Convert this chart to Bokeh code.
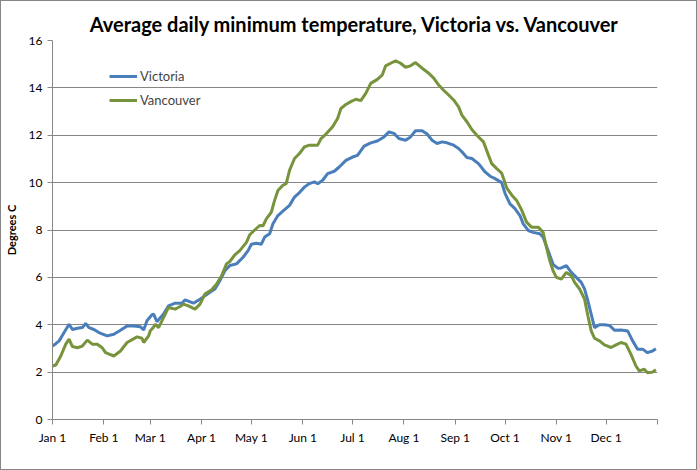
from bokeh.plotting import figure
from bokeh.models import Range1d, FixedTicker, Legend, LegendItem
from bokeh.embed import file_html
from bokeh.resources import INLINE

month_ticks = [0, 31, 59, 90, 120, 151, 181, 212, 243, 273, 304, 334, 365]
month_labels = ["Jan 1", "Feb 1", "Mar 1", "Apr 1", "May 1", "Jun 1", "Jul 1",
                "Aug 1", "Sep 1", "Oct 1", "Nov 1", "Dec 1", ""]

victoria_days = [0, 2, 4, 7, 10, 12, 15, 18, 20, 22, 25, 28, 33, 37, 41, 45, 49, 53, 55, 57,
                 60, 61, 63, 67, 70, 74, 78, 80, 85, 89, 92, 95, 98, 101, 104, 107, 111, 115,
                 118, 120, 123, 126, 128, 131, 133, 136, 139, 143, 146, 149, 152, 155, 158,
                 160, 163, 166, 170, 173, 177, 181, 184, 188, 192, 196, 200, 203, 206, 209,
                 213, 216, 219, 223, 226, 229, 232, 235, 238, 242, 245, 247, 250, 253, 257,
                 261, 264, 267, 271, 273, 276, 279, 282, 284, 287, 290, 294, 296, 299, 302,
                 305, 307, 310, 313, 316, 319, 321, 323, 325, 327, 330, 333, 336, 339, 343,
                 347, 350, 353, 356, 359, 362, 364]
victoria = [3.10, 3.20, 3.32, 3.67, 4.02, 3.80, 3.85, 3.88, 4.05, 3.88, 3.80, 3.67, 3.53, 3.60,
            3.77, 3.95, 3.95, 3.92, 3.78, 4.17, 4.42, 4.45, 4.13, 4.45, 4.80, 4.91, 4.91, 5.05,
            4.91, 5.08, 5.22, 5.37, 5.51, 5.86, 6.28, 6.50, 6.57, 6.85, 7.13, 7.40, 7.44, 7.40,
            7.70, 7.84, 8.26, 8.61, 8.80, 9.04, 9.39, 9.58, 9.81, 9.96, 10.03, 9.95, 10.10,
            10.38, 10.48, 10.66, 10.94, 11.08, 11.15, 11.54, 11.68, 11.76, 11.93, 12.14, 12.08,
            11.86, 11.79, 11.93, 12.19, 12.19, 12.05, 11.79, 11.65, 11.72, 11.68, 11.58, 11.44,
            11.30, 11.06, 11.02, 10.80, 10.45, 10.27, 10.17, 10.00, 9.55, 9.10, 8.90, 8.61,
            8.26, 7.98, 7.90, 7.84, 7.69, 7.13, 6.55, 6.38, 6.40, 6.50, 6.21, 6.00, 5.79, 5.51,
            5.01, 4.45, 3.88, 4.00, 4.00, 3.97, 3.77, 3.78, 3.74, 3.32, 2.97, 2.97, 2.82, 2.89,
            2.99]

vancouver_days = [0, 2, 5, 8, 10, 12, 15, 18, 21, 24, 27, 30, 32, 37, 41, 45, 51, 54, 55, 58,
                  59, 61, 62, 64, 67, 70, 74, 77, 79, 82, 86, 89, 92, 96, 99, 102, 105, 107,
                  110, 113, 117, 119, 122, 125, 127, 129, 132, 134, 136, 139, 141, 143, 146,
                  149, 152, 155, 160, 162, 165, 169, 172, 174, 177, 180, 183, 186, 189, 192,
                  196, 199, 201, 204, 207, 210, 213, 216, 219, 223, 227, 230, 233, 236, 239,
                  242, 245, 247, 250, 253, 256, 260, 263, 265, 268, 271, 274, 277, 280, 283,
                  286, 289, 293, 296, 298, 300, 302, 304, 307, 310, 313, 315, 318, 321, 323,
                  325, 327, 330, 333, 337, 340, 343, 346, 349, 352, 354, 357, 359, 362, 364]
vancouver = [2.26, 2.30, 2.68, 3.18, 3.39, 3.08, 3.03, 3.10, 3.35, 3.18, 3.18, 3.03, 2.82, 2.68,
             2.89, 3.25, 3.49, 3.43, 3.25, 3.53, 3.75, 3.90, 4.02, 3.88, 4.30, 4.73, 4.66, 4.77,
             4.87, 4.80, 4.66, 4.87, 5.30, 5.48, 5.72, 6.07, 6.57, 6.67, 6.95, 7.13, 7.48, 7.80,
             8.00, 8.19, 8.18, 8.47, 8.75, 9.25, 9.67, 9.89, 9.96, 10.52, 11.02, 11.23, 11.51,
             11.58, 11.58, 11.86, 12.05, 12.36, 12.71, 13.13, 13.30, 13.42, 13.52, 13.46, 13.77,
             14.19, 14.36, 14.55, 14.93, 15.04, 15.14, 15.04, 14.87, 14.93, 15.07, 14.83, 14.62,
             14.41, 14.12, 13.90, 13.70, 13.49, 13.20, 12.85, 12.57, 12.24, 12.00, 11.72, 11.16,
             10.80, 10.59, 10.40, 9.78, 9.48, 9.25, 8.85, 8.33, 8.12, 8.12, 7.90, 7.27, 6.71,
             6.28, 6.00, 5.93, 6.21, 6.07, 5.79, 5.51, 5.08, 4.38, 3.74, 3.43, 3.32, 3.15, 3.04,
             3.15, 3.25, 3.18, 2.75, 2.26, 2.05, 2.12, 1.97, 2.00, 2.10]

y_ticks = [0, 2, 4, 6, 8, 10, 12, 14, 16]

FONT = "Lato"
GRID = "#868686"

p = figure(width=697, height=470, output_backend="svg", toolbar_location=None,
           x_range=Range1d(0, 365), y_range=Range1d(0, 16),
           min_border_left=51, min_border_right=41, min_border_top=39, min_border_bottom=52)
p.styles = {"border": "1px solid #868686", "box-sizing": "border-box"}
p.outline_line_color = None

p.title.text = "Average daily minimum temperature, Victoria vs. Vancouver"
p.title.align = "center"
p.title.text_font = FONT
p.title.text_font_size = "20px"
p.title.text_font_style = "bold"
p.title.text_color = "black"

p.xgrid.grid_line_color = None
p.ygrid.grid_line_color = GRID
p.ygrid.ticker = FixedTicker(ticks=y_ticks)

p.xaxis.ticker = FixedTicker(ticks=month_ticks)
p.xaxis.major_label_overrides = {t: l for t, l in zip(month_ticks, month_labels)}
p.yaxis.ticker = FixedTicker(ticks=y_ticks)
for ax in (p.xaxis, p.yaxis):
    ax.axis_line_color = GRID
    ax.major_tick_line_color = GRID
    ax.major_tick_out = 5
    ax.major_tick_in = 0
    ax.minor_tick_line_color = None
    ax.major_label_text_font = FONT
    ax.major_label_text_font_size = "12px"
    ax.major_label_text_color = "black"
p.yaxis.axis_label = "Degrees C"
p.yaxis.axis_label_text_font = FONT
p.yaxis.axis_label_text_font_size = "11px"
p.yaxis.axis_label_text_font_style = "bold"
p.yaxis.axis_label_text_color = "black"
p.yaxis.axis_label_standoff = 8

r1 = p.line(victoria_days, victoria, line_color="#4A7EBB", line_width=3)
r2 = p.line(vancouver_days, vancouver, line_color="#77933C", line_width=3)

legend = Legend(items=[LegendItem(label="Victoria", renderers=[r1]),
                       LegendItem(label="Vancouver", renderers=[r2])],
                location=(57, 309), border_line_color=None, background_fill_alpha=0,
                glyph_width=28, glyph_height=20, spacing=4, padding=5, margin=0,
                label_standoff=3, label_text_font=FONT, label_text_font_size="13px")
p.add_layout(legend)

open("out.html", "w").write(file_html(p, INLINE))
